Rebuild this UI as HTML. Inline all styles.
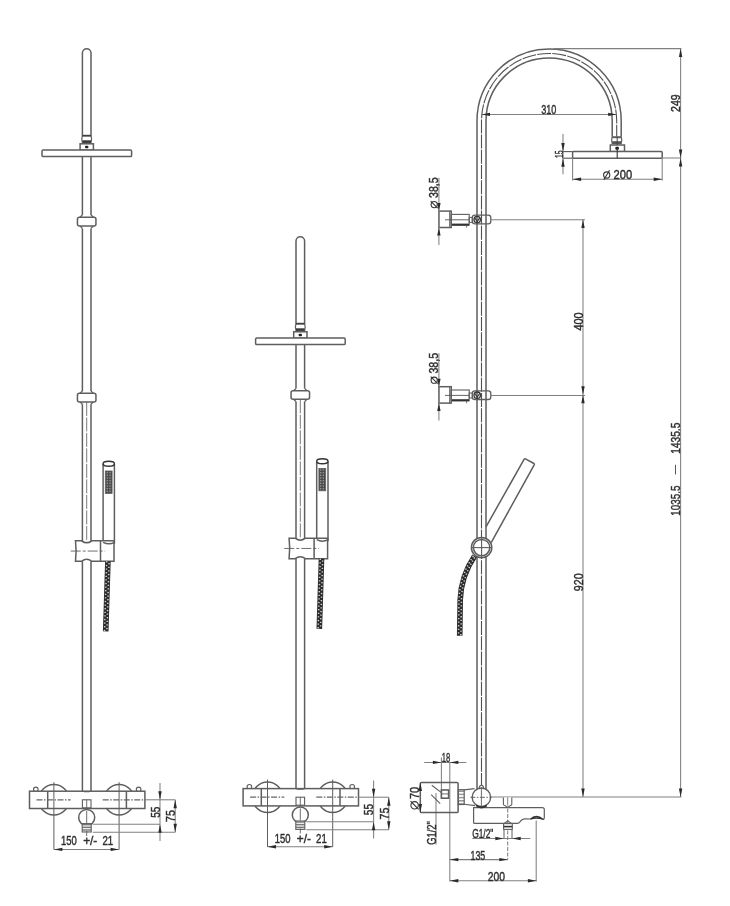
<!DOCTYPE html>
<html><head><meta charset="utf-8"><style>
html,body{margin:0;padding:0;background:#fff;}
svg{display:block;will-change:transform;}
text{font-family:"Liberation Sans",sans-serif;}
</style></head><body>
<svg width="730" height="906" viewBox="0 0 730 906">
<defs>
<pattern id="grid" width="1.6" height="1.6" patternUnits="userSpaceOnUse"><rect width="1.6" height="1.6" fill="#444"/><rect width="0.7" height="0.7" fill="#ccc"/></pattern>
<pattern id="nut" width="6" height="3.2" patternUnits="userSpaceOnUse"><rect width="6" height="3.2" fill="#fff"/><rect width="6" height="1.6" fill="#999"/></pattern>
<pattern id="thread" width="3" height="1.6" patternUnits="userSpaceOnUse"><rect width="3" height="1.6" fill="#fff"/><rect width="3" height="0.8" fill="#666"/></pattern>
</defs>
<rect width="730" height="906" fill="#fff"/>
<path d="M82.4 135.5 V53 A4.3 4.3 0 0 1 91 53 V135.5" stroke="#5e5e5e" stroke-width="1.5" fill="none" />
<path d="M82.4 135.3 Q81.2 139.1 82.4 142.9 H91 Q92.2 139.1 91 135.3 Z" stroke="#5e5e5e" stroke-width="1.2" fill="#fff" />
<rect x="82.4" y="135.3" width="8.6" height="1.3" rx="0" stroke="#5e5e5e" stroke-width="0" fill="#333" />
<rect x="82.4" y="140.3" width="8.6" height="2.6" rx="0" stroke="#5e5e5e" stroke-width="0" fill="#3a3a3a" />
<rect x="80.1" y="143.8" width="13.3" height="6.3" rx="0" stroke="#5e5e5e" stroke-width="1.5" fill="#fff" />
<rect x="85" y="145.8" width="3.4" height="2.4" rx="0.9" stroke="#5e5e5e" stroke-width="0" fill="#222" />
<rect x="42" y="150.1" width="89.6" height="6.5" rx="1.2" stroke="#5e5e5e" stroke-width="1.5" fill="#fff" />
<line x1="82.4" y1="156.9" x2="82.4" y2="214.9" stroke="#5e5e5e" stroke-width="1.5" />
<line x1="91" y1="156.9" x2="91" y2="214.9" stroke="#5e5e5e" stroke-width="1.5" />
<path d="M82.4 214.9 L79.8 217.5 M91 214.9 L93.6 217.5 M82.4 228.4 L79.8 225.8 M91 228.4 L93.6 225.8" stroke="#5e5e5e" stroke-width="1.3" fill="none" />
<rect x="77.45" y="217.2" width="18.5" height="8.9" rx="2" stroke="#5e5e5e" stroke-width="1.5" fill="#fff" />
<line x1="82.4" y1="228.4" x2="82.4" y2="391" stroke="#5e5e5e" stroke-width="1.5" />
<line x1="91" y1="228.4" x2="91" y2="391" stroke="#5e5e5e" stroke-width="1.5" />
<path d="M82.4 391 L79.8 393.6 M91 391 L93.6 393.6 M82.4 404.2 L79.8 401.6 M91 404.2 L93.6 401.6" stroke="#5e5e5e" stroke-width="1.3" fill="none" />
<rect x="77.45" y="393.3" width="18.5" height="8.6" rx="2" stroke="#5e5e5e" stroke-width="1.5" fill="#fff" />
<line x1="82.4" y1="404.2" x2="82.4" y2="541.8" stroke="#5e5e5e" stroke-width="1.5" />
<line x1="91" y1="404.2" x2="91" y2="541.8" stroke="#5e5e5e" stroke-width="1.5" />
<line x1="86.7" y1="401.9" x2="86.7" y2="541.8" stroke="#6a6a6a" stroke-width="0.9" stroke-dasharray="14 1.5"/>
<line x1="103.1" y1="463.8" x2="103.1" y2="543.8" stroke="#5e5e5e" stroke-width="1.5" />
<line x1="114.4" y1="463.8" x2="114.4" y2="543.8" stroke="#5e5e5e" stroke-width="1.5" />
<ellipse cx="108.75" cy="463.8" rx="5.65" ry="2.5" stroke="#333" stroke-width="1.4" fill="#fff"/>
<rect x="105.3" y="471" width="6.8" height="22.4" rx="0" stroke="#5e5e5e" stroke-width="0.8" fill="url(#grid)" />
<path d="M75.5 540.8 H81.6 Q86.7 544.8 91.8 540.8 H114 V561.3 H91.8 Q86.7 557.3 81.6 561.3 H75.5 Q76.7 551.05 75.5 540.8 Z" stroke="#5e5e5e" stroke-width="1.5" fill="#fff" />
<line x1="100.5" y1="540.8" x2="100.5" y2="561.3" stroke="#5e5e5e" stroke-width="1.5" />
<path d="M103.1 542.3 Q109.1 545.3 114.4 542.3" stroke="#5e5e5e" stroke-width="1.4" fill="none" />
<line x1="70.7" y1="551.05" x2="105.2" y2="551.05" stroke="#5e5e5e" stroke-width="0.9" stroke-dasharray="10 2 3 2"/>
<line x1="82.4" y1="561.3" x2="82.4" y2="791" stroke="#5e5e5e" stroke-width="1.5" />
<line x1="91" y1="561.3" x2="91" y2="791" stroke="#5e5e5e" stroke-width="1.5" />
<path d="M107.9 561.3 L105.7 631.4" stroke="#2a2a2a" stroke-width="5.6" fill="none" stroke-linecap="butt"/>
<path d="M107.9 561.3 L105.7 631.4" stroke="#cfcfcf" stroke-width="1.5" fill="none" stroke-dasharray="1.3 2.3" transform="translate(-1.2 0)"/>
<path d="M107.9 561.3 L105.7 631.4" stroke="#cfcfcf" stroke-width="1.5" fill="none" stroke-dasharray="1.3 2.3" stroke-dashoffset="1.8" transform="translate(1.2 0)"/>
<circle cx="53.9" cy="799.8" r="15.2" stroke="#5e5e5e" stroke-width="1.5" fill="#fff" />
<circle cx="119.1" cy="799.8" r="15.2" stroke="#5e5e5e" stroke-width="1.5" fill="#fff" />
<circle cx="35.8" cy="789.4" r="2.3" stroke="#5e5e5e" stroke-width="1.1" fill="#fff" />
<circle cx="138.6" cy="789.4" r="2.3" stroke="#5e5e5e" stroke-width="1.1" fill="#fff" />
<rect x="29.5" y="791.2" width="115.4" height="17.3" rx="0" stroke="#5e5e5e" stroke-width="1.5" fill="#fff" />
<line x1="47.7" y1="791.2" x2="47.7" y2="808.5" stroke="#5e5e5e" stroke-width="1.5" />
<line x1="126.4" y1="791.2" x2="126.4" y2="808.5" stroke="#5e5e5e" stroke-width="1.5" />
<line x1="53.9" y1="782.2" x2="53.9" y2="849.5" stroke="#5e5e5e" stroke-width="1.0" />
<line x1="119.1" y1="782.2" x2="119.1" y2="849.5" stroke="#5e5e5e" stroke-width="1.0" />
<line x1="36.5" y1="799.8" x2="70.7" y2="799.8" stroke="#666" stroke-width="1.2" stroke-dasharray="6 1.5 1.5 1.5"/>
<line x1="102.7" y1="799.8" x2="144.9" y2="799.8" stroke="#666" stroke-width="1.2" stroke-dasharray="6 1.5 1.5 1.5"/>
<line x1="144.9" y1="799.8" x2="175.2" y2="799.8" stroke="#808080" stroke-width="1.05" />
<path d="M82.4 791.2 Q86.7 792.4 91 791.2" stroke="#5e5e5e" stroke-width="1.1" fill="none" />
<rect x="82.4" y="799.8" width="8.6" height="8" rx="0" stroke="#5e5e5e" stroke-width="1.1" fill="#fff" />
<line x1="86.7" y1="799.8" x2="86.7" y2="807.8" stroke="#5e5e5e" stroke-width="0.9" />
<circle cx="86.7" cy="817.5" r="8" stroke="#5e5e5e" stroke-width="1.5" fill="#fff" />
<line x1="86.7" y1="811" x2="86.7" y2="823" stroke="#5e5e5e" stroke-width="0.9" />
<rect x="82.2" y="823.6" width="9" height="8.4" rx="0" stroke="#5e5e5e" stroke-width="1.1" fill="url(#thread)" />
<line x1="86.7" y1="831" x2="86.7" y2="836" stroke="#5e5e5e" stroke-width="0.9" />
<line x1="92.7" y1="824.3" x2="160" y2="824.3" stroke="#808080" stroke-width="1.05" />
<line x1="92.7" y1="832.3" x2="175.2" y2="832.3" stroke="#808080" stroke-width="1.05" />
<line x1="160" y1="783" x2="160" y2="841" stroke="#808080" stroke-width="1.05" />
<path d="M160 799.8 L158.3 791.3 L161.7 791.3 Z" fill="#2a2a2a" stroke="none"/>
<path d="M160 824.3 L161.7 832.8 L158.3 832.8 Z" fill="#2a2a2a" stroke="none"/>
<text x="-7.11" y="0" font-size="12.8" fill="#2e2e2e" stroke="#2e2e2e" stroke-width="0.42" transform="translate(159.7 812.2) rotate(-90) scale(0.788 1)" >55</text>
<line x1="175.2" y1="799.8" x2="175.2" y2="832.3" stroke="#808080" stroke-width="1.05" />
<path d="M175.2 799.8 L176.9 808.3 L173.5 808.3 Z" fill="#2a2a2a" stroke="none"/>
<path d="M175.2 832.3 L173.5 823.8 L176.9 823.8 Z" fill="#2a2a2a" stroke="none"/>
<text x="-7.18" y="0" font-size="12.8" fill="#2e2e2e" stroke="#2e2e2e" stroke-width="0.42" transform="translate(174.9 816) rotate(-90) scale(0.835 1)" >75</text>
<line x1="53.9" y1="849.4" x2="119.1" y2="849.4" stroke="#808080" stroke-width="1.05" />
<path d="M53.9 849.4 L62.4 847.7 L62.4 851.1 Z" fill="#2a2a2a" stroke="none"/>
<path d="M119.1 849.4 L110.6 851.1 L110.6 847.7 Z" fill="#2a2a2a" stroke="none"/>
<text x="-10.92" y="0" font-size="12.8" fill="#2e2e2e" stroke="#2e2e2e" stroke-width="0.42" transform="translate(69.15 845.3) scale(0.739 1)" >150</text>
<text x="-7.67" y="0" font-size="12.8" fill="#2e2e2e" stroke="#2e2e2e" stroke-width="0.42" transform="translate(90.25 845.3) scale(0.928 1)" >+/-</text>
<text x="-7.13" y="0" font-size="12.8" fill="#2e2e2e" stroke="#2e2e2e" stroke-width="0.42" transform="translate(107.8 845.3) scale(0.755 1)" >21</text>
<path d="M296 323.5 V241 A4.3 4.3 0 0 1 304.6 241 V323.5" stroke="#5e5e5e" stroke-width="1.5" fill="none" />
<path d="M296 323.3 Q294.8 327.1 296 330.9 H304.6 Q305.8 327.1 304.6 323.3 Z" stroke="#5e5e5e" stroke-width="1.2" fill="#fff" />
<rect x="296" y="323.3" width="8.6" height="1.3" rx="0" stroke="#5e5e5e" stroke-width="0" fill="#333" />
<rect x="296" y="328.3" width="8.6" height="2.6" rx="0" stroke="#5e5e5e" stroke-width="0" fill="#3a3a3a" />
<rect x="293.7" y="331.8" width="13.3" height="6.3" rx="0" stroke="#5e5e5e" stroke-width="1.5" fill="#fff" />
<rect x="298.6" y="333.8" width="3.4" height="2.4" rx="0.9" stroke="#5e5e5e" stroke-width="0" fill="#222" />
<rect x="255.6" y="338.1" width="89.6" height="6.5" rx="1.2" stroke="#5e5e5e" stroke-width="1.5" fill="#fff" />
<line x1="296" y1="344.9" x2="296" y2="388.4" stroke="#5e5e5e" stroke-width="1.5" />
<line x1="304.6" y1="344.9" x2="304.6" y2="388.4" stroke="#5e5e5e" stroke-width="1.5" />
<path d="M296 388.4 L293.4 391 M304.6 388.4 L307.2 391 M296 401.6 L293.4 399 M304.6 401.6 L307.2 399" stroke="#5e5e5e" stroke-width="1.3" fill="none" />
<rect x="291.05" y="390.7" width="18.5" height="8.6" rx="2" stroke="#5e5e5e" stroke-width="1.5" fill="#fff" />
<line x1="296" y1="401.6" x2="296" y2="539.2" stroke="#5e5e5e" stroke-width="1.5" />
<line x1="304.6" y1="401.6" x2="304.6" y2="539.2" stroke="#5e5e5e" stroke-width="1.5" />
<line x1="300.3" y1="399.3" x2="300.3" y2="539.2" stroke="#6a6a6a" stroke-width="0.9" stroke-dasharray="14 1.5"/>
<line x1="316.7" y1="461.2" x2="316.7" y2="541.2" stroke="#5e5e5e" stroke-width="1.5" />
<line x1="328" y1="461.2" x2="328" y2="541.2" stroke="#5e5e5e" stroke-width="1.5" />
<ellipse cx="322.35" cy="461.2" rx="5.65" ry="2.5" stroke="#333" stroke-width="1.4" fill="#fff"/>
<rect x="318.9" y="468.4" width="6.8" height="22.4" rx="0" stroke="#5e5e5e" stroke-width="0.8" fill="url(#grid)" />
<path d="M289.1 538.2 H295.2 Q300.3 542.2 305.4 538.2 H327.6 V558.7 H305.4 Q300.3 554.7 295.2 558.7 H289.1 Q290.3 548.45 289.1 538.2 Z" stroke="#5e5e5e" stroke-width="1.5" fill="#fff" />
<line x1="314.1" y1="538.2" x2="314.1" y2="558.7" stroke="#5e5e5e" stroke-width="1.5" />
<path d="M316.7 539.7 Q322.7 542.7 328 539.7" stroke="#5e5e5e" stroke-width="1.4" fill="none" />
<line x1="284.3" y1="548.45" x2="318.8" y2="548.45" stroke="#5e5e5e" stroke-width="0.9" stroke-dasharray="10 2 3 2"/>
<line x1="296" y1="558.7" x2="296" y2="788.4" stroke="#5e5e5e" stroke-width="1.5" />
<line x1="304.6" y1="558.7" x2="304.6" y2="788.4" stroke="#5e5e5e" stroke-width="1.5" />
<path d="M321.5 558.7 L319.3 628.8" stroke="#2a2a2a" stroke-width="5.6" fill="none" stroke-linecap="butt"/>
<path d="M321.5 558.7 L319.3 628.8" stroke="#cfcfcf" stroke-width="1.5" fill="none" stroke-dasharray="1.3 2.3" transform="translate(-1.2 0)"/>
<path d="M321.5 558.7 L319.3 628.8" stroke="#cfcfcf" stroke-width="1.5" fill="none" stroke-dasharray="1.3 2.3" stroke-dashoffset="1.8" transform="translate(1.2 0)"/>
<circle cx="267.5" cy="797.2" r="15.2" stroke="#5e5e5e" stroke-width="1.5" fill="#fff" />
<circle cx="332.7" cy="797.2" r="15.2" stroke="#5e5e5e" stroke-width="1.5" fill="#fff" />
<circle cx="249.4" cy="786.8" r="2.3" stroke="#5e5e5e" stroke-width="1.1" fill="#fff" />
<circle cx="352.2" cy="786.8" r="2.3" stroke="#5e5e5e" stroke-width="1.1" fill="#fff" />
<rect x="243.1" y="788.6" width="115.4" height="17.3" rx="0" stroke="#5e5e5e" stroke-width="1.5" fill="#fff" />
<line x1="261.3" y1="788.6" x2="261.3" y2="805.9" stroke="#5e5e5e" stroke-width="1.5" />
<line x1="340" y1="788.6" x2="340" y2="805.9" stroke="#5e5e5e" stroke-width="1.5" />
<line x1="267.5" y1="779.6" x2="267.5" y2="846.9" stroke="#5e5e5e" stroke-width="1.0" />
<line x1="332.7" y1="779.6" x2="332.7" y2="846.9" stroke="#5e5e5e" stroke-width="1.0" />
<line x1="250.1" y1="797.2" x2="284.3" y2="797.2" stroke="#666" stroke-width="1.2" stroke-dasharray="6 1.5 1.5 1.5"/>
<line x1="316.3" y1="797.2" x2="358.5" y2="797.2" stroke="#666" stroke-width="1.2" stroke-dasharray="6 1.5 1.5 1.5"/>
<line x1="358.5" y1="797.2" x2="388.8" y2="797.2" stroke="#808080" stroke-width="1.05" />
<path d="M296 788.6 Q300.3 789.8 304.6 788.6" stroke="#5e5e5e" stroke-width="1.1" fill="none" />
<rect x="296" y="797.2" width="8.6" height="8" rx="0" stroke="#5e5e5e" stroke-width="1.1" fill="#fff" />
<line x1="300.3" y1="797.2" x2="300.3" y2="805.2" stroke="#5e5e5e" stroke-width="0.9" />
<circle cx="300.3" cy="814.9" r="8" stroke="#5e5e5e" stroke-width="1.5" fill="#fff" />
<line x1="300.3" y1="808.4" x2="300.3" y2="820.4" stroke="#5e5e5e" stroke-width="0.9" />
<rect x="295.8" y="821" width="9" height="8.4" rx="0" stroke="#5e5e5e" stroke-width="1.1" fill="url(#thread)" />
<line x1="300.3" y1="828.4" x2="300.3" y2="833.4" stroke="#5e5e5e" stroke-width="0.9" />
<line x1="306.3" y1="821.7" x2="373.6" y2="821.7" stroke="#808080" stroke-width="1.05" />
<line x1="306.3" y1="829.7" x2="388.8" y2="829.7" stroke="#808080" stroke-width="1.05" />
<line x1="373.6" y1="780.4" x2="373.6" y2="838.4" stroke="#808080" stroke-width="1.05" />
<path d="M373.6 797.2 L371.9 788.7 L375.3 788.7 Z" fill="#2a2a2a" stroke="none"/>
<path d="M373.6 821.7 L375.3 830.2 L371.9 830.2 Z" fill="#2a2a2a" stroke="none"/>
<text x="-7.11" y="0" font-size="12.8" fill="#2e2e2e" stroke="#2e2e2e" stroke-width="0.42" transform="translate(373.3 809.6) rotate(-90) scale(0.788 1)" >55</text>
<line x1="388.8" y1="797.2" x2="388.8" y2="829.7" stroke="#808080" stroke-width="1.05" />
<path d="M388.8 797.2 L390.5 805.7 L387.1 805.7 Z" fill="#2a2a2a" stroke="none"/>
<path d="M388.8 829.7 L387.1 821.2 L390.5 821.2 Z" fill="#2a2a2a" stroke="none"/>
<text x="-7.18" y="0" font-size="12.8" fill="#2e2e2e" stroke="#2e2e2e" stroke-width="0.42" transform="translate(388.5 813.4) rotate(-90) scale(0.835 1)" >75</text>
<line x1="267.5" y1="846.8" x2="332.7" y2="846.8" stroke="#808080" stroke-width="1.05" />
<path d="M267.5 846.8 L276 845.1 L276 848.5 Z" fill="#2a2a2a" stroke="none"/>
<path d="M332.7 846.8 L324.2 848.5 L324.2 845.1 Z" fill="#2a2a2a" stroke="none"/>
<text x="-10.92" y="0" font-size="12.8" fill="#2e2e2e" stroke="#2e2e2e" stroke-width="0.42" transform="translate(282.75 842.7) scale(0.739 1)" >150</text>
<text x="-7.67" y="0" font-size="12.8" fill="#2e2e2e" stroke="#2e2e2e" stroke-width="0.42" transform="translate(303.85 842.7) scale(0.928 1)" >+/-</text>
<text x="-7.13" y="0" font-size="12.8" fill="#2e2e2e" stroke="#2e2e2e" stroke-width="0.42" transform="translate(321.4 842.7) scale(0.755 1)" >21</text>
<path d="M477 789 V121 A72.1 72.1 0 0 1 621.2 121 V136.8" stroke="#5e5e5e" stroke-width="1.5" fill="none" />
<path d="M486 789 V121 A63.1 63.1 0 0 1 612.2 121 V136.8" stroke="#5e5e5e" stroke-width="1.5" fill="none" />
<path d="M481.5 787 V121 A67.6 67.6 0 0 1 616.7 121 V136.8" stroke="#505050" stroke-width="1.1" fill="none" stroke-dasharray="14 1.2"/>
<path d="M612.2 136.8 Q611 140.2 612.2 143.6 H621.2 Q622.4 140.2 621.2 136.8 Z" stroke="#5e5e5e" stroke-width="1.2" fill="#fff" />
<rect x="612.2" y="136.8" width="9" height="1.4" rx="0" stroke="#5e5e5e" stroke-width="0" fill="#5e5e5e" />
<rect x="612.2" y="141.2" width="9" height="2.4" rx="0" stroke="#5e5e5e" stroke-width="0" fill="#555" />
<rect x="610.3" y="145" width="14.2" height="6.6" rx="0" stroke="#5e5e5e" stroke-width="1.5" fill="#fff" />
<rect x="615.3" y="146.8" width="3.6" height="2.9" rx="1.2" stroke="#5e5e5e" stroke-width="0" fill="#1a1a1a" />
<rect x="572.6" y="151.6" width="89.6" height="6.6" rx="1" stroke="#5e5e5e" stroke-width="1.5" fill="#fff" />
<line x1="617.2" y1="136.8" x2="617.2" y2="145" stroke="#444" stroke-width="1.0" />
<line x1="617.2" y1="148" x2="617.2" y2="158.2" stroke="#333" stroke-width="1.1" />
<line x1="481.5" y1="114.4" x2="616.7" y2="114.4" stroke="#808080" stroke-width="1.05" />
<path d="M481.5 114.4 L490 112.7 L490 116.1 Z" fill="#2a2a2a" stroke="none"/>
<path d="M616.7 114.4 L608.2 116.1 L608.2 112.7 Z" fill="#2a2a2a" stroke="none"/>
<text x="-10.68" y="0" font-size="12.8" fill="#2e2e2e" stroke="#2e2e2e" stroke-width="0.42" transform="translate(548.75 114.1) scale(0.712 1)" >310</text>
<line x1="553.8" y1="48.6" x2="681.4" y2="48.6" stroke="#808080" stroke-width="1.05" />
<line x1="662.2" y1="158" x2="681.4" y2="158" stroke="#808080" stroke-width="1.05" />
<line x1="680.6" y1="48.6" x2="680.6" y2="796.9" stroke="#808080" stroke-width="1.05" />
<path d="M680.6 48.6 L682.3 57.1 L678.9 57.1 Z" fill="#2a2a2a" stroke="none"/>
<path d="M680.6 158 L678.9 149.5 L682.3 149.5 Z" fill="#2a2a2a" stroke="none"/>
<path d="M680.6 158 L682.3 166.5 L678.9 166.5 Z" fill="#2a2a2a" stroke="none"/>
<text x="-10.69" y="0" font-size="12.8" fill="#2e2e2e" stroke="#2e2e2e" stroke-width="0.42" transform="translate(680.2 103.1) rotate(-90) scale(0.826 1)" >249</text>
<line x1="562.5" y1="151.6" x2="572.6" y2="151.6" stroke="#555" stroke-width="1.1" />
<line x1="562.5" y1="158.2" x2="572.6" y2="158.2" stroke="#555" stroke-width="1.1" />
<line x1="563" y1="134" x2="563" y2="174.2" stroke="#808080" stroke-width="1.05" />
<path d="M563 151.6 L561.3 143.1 L564.7 143.1 Z" fill="#2a2a2a" stroke="none"/>
<path d="M563 158.2 L564.7 166.7 L561.3 166.7 Z" fill="#2a2a2a" stroke="none"/>
<text x="-6.6" y="0" font-size="11.5" fill="#2e2e2e" stroke="#2e2e2e" stroke-width="0.42" transform="translate(562.6 154) rotate(-90) scale(0.594 1)" >15</text>
<line x1="572.6" y1="158" x2="572.6" y2="180.6" stroke="#808080" stroke-width="1.05" />
<line x1="662.2" y1="158" x2="662.2" y2="180.6" stroke="#808080" stroke-width="1.05" />
<line x1="572.6" y1="179.2" x2="662.2" y2="179.2" stroke="#808080" stroke-width="1.05" />
<path d="M572.6 179.2 L581.1 177.5 L581.1 180.9 Z" fill="#2a2a2a" stroke="none"/>
<path d="M662.2 179.2 L653.7 180.9 L653.7 177.5 Z" fill="#2a2a2a" stroke="none"/>
<text x="-10.75" y="0" font-size="12.8" fill="#2e2e2e" stroke="#2e2e2e" stroke-width="0.42" transform="translate(622.9 179) scale(0.870 1)" >200</text>
<circle cx="606.7" cy="175" r="3.1" stroke="#333" stroke-width="1.1" fill="none" />
<line x1="603.8" y1="179.7" x2="609.6" y2="170.3" stroke="#333" stroke-width="1.1" />
<rect x="438.9" y="211.1" width="12.3" height="16.4" rx="0" stroke="#5e5e5e" stroke-width="1.5" fill="none" />
<line x1="449.7" y1="211.1" x2="449.7" y2="227.5" stroke="#5e5e5e" stroke-width="1.0" />
<rect x="451.2" y="214.4" width="18" height="10.8" rx="0" stroke="#5e5e5e" stroke-width="1.1" fill="none" />
<line x1="452" y1="224.6" x2="469" y2="224.6" stroke="#333" stroke-width="2.0" />
<line x1="466.6" y1="225.5" x2="466.6" y2="227.6" stroke="#5e5e5e" stroke-width="0.9" />
<line x1="445" y1="219.8" x2="469.2" y2="219.8" stroke="#555" stroke-width="0.9" />
<rect x="469.2" y="217.4" width="3.1" height="5" rx="0" stroke="#5e5e5e" stroke-width="1.0" fill="none" />
<rect x="472.3" y="215.2" width="18.5" height="8.7" rx="2.6" stroke="#5e5e5e" stroke-width="1.3" fill="none" />
<circle cx="477.2" cy="219.6" r="3.2" stroke="#333" stroke-width="1.3" fill="none" />
<path d="M474.8 217.9 L477.2 221.7 L479.6 217.9" stroke="#333" stroke-width="1.1" fill="none" />
<line x1="490.8" y1="219.8" x2="585" y2="219.8" stroke="#808080" stroke-width="1.05" />
<line x1="438.9" y1="177.7" x2="438.9" y2="245" stroke="#808080" stroke-width="1.05" />
<path d="M438.9 211.1 L437.2 203.1 L440.6 203.1 Z" fill="#2a2a2a" stroke="none"/>
<path d="M438.9 227.5 L440.6 235.5 L437.2 235.5 Z" fill="#2a2a2a" stroke="none"/>
<text x="-12.44" y="0" font-size="12.8" fill="#2e2e2e" stroke="#2e2e2e" stroke-width="0.42" transform="translate(438.4 187.7) rotate(-90) scale(0.829 1)" >38,5</text>
<circle cx="434.2" cy="204.6" r="3.1" stroke="#333" stroke-width="1.1" fill="none" />
<line x1="430.7" y1="201.1" x2="437.7" y2="208.1" stroke="#333" stroke-width="1.1" />
<rect x="438.9" y="386.7" width="12.3" height="16.4" rx="0" stroke="#5e5e5e" stroke-width="1.5" fill="none" />
<line x1="449.7" y1="386.7" x2="449.7" y2="403.1" stroke="#5e5e5e" stroke-width="1.0" />
<rect x="451.2" y="390" width="18" height="10.8" rx="0" stroke="#5e5e5e" stroke-width="1.1" fill="none" />
<line x1="452" y1="400.2" x2="469" y2="400.2" stroke="#333" stroke-width="2.0" />
<line x1="466.6" y1="401.1" x2="466.6" y2="403.2" stroke="#5e5e5e" stroke-width="0.9" />
<line x1="445" y1="395.4" x2="469.2" y2="395.4" stroke="#555" stroke-width="0.9" />
<rect x="469.2" y="393" width="3.1" height="5" rx="0" stroke="#5e5e5e" stroke-width="1.0" fill="none" />
<rect x="472.3" y="390.8" width="18.5" height="8.7" rx="2.6" stroke="#5e5e5e" stroke-width="1.3" fill="none" />
<circle cx="477.2" cy="395.2" r="3.2" stroke="#333" stroke-width="1.3" fill="none" />
<path d="M474.8 393.5 L477.2 397.3 L479.6 393.5" stroke="#333" stroke-width="1.1" fill="none" />
<line x1="490.8" y1="395.4" x2="585" y2="395.4" stroke="#808080" stroke-width="1.05" />
<line x1="438.9" y1="353.3" x2="438.9" y2="420.6" stroke="#808080" stroke-width="1.05" />
<path d="M438.9 386.7 L437.2 378.7 L440.6 378.7 Z" fill="#2a2a2a" stroke="none"/>
<path d="M438.9 403.1 L440.6 411.1 L437.2 411.1 Z" fill="#2a2a2a" stroke="none"/>
<text x="-12.44" y="0" font-size="12.8" fill="#2e2e2e" stroke="#2e2e2e" stroke-width="0.42" transform="translate(438.4 363.3) rotate(-90) scale(0.829 1)" >38,5</text>
<circle cx="434.2" cy="380.2" r="3.1" stroke="#333" stroke-width="1.1" fill="none" />
<line x1="430.7" y1="376.7" x2="437.7" y2="383.7" stroke="#333" stroke-width="1.1" />
<line x1="583" y1="219.4" x2="583" y2="796.9" stroke="#808080" stroke-width="1.05" />
<path d="M583 219.4 L584.7 227.9 L581.3 227.9 Z" fill="#2a2a2a" stroke="none"/>
<path d="M583 394.8 L581.3 386.3 L584.7 386.3 Z" fill="#2a2a2a" stroke="none"/>
<path d="M583 394.8 L584.7 403.3 L581.3 403.3 Z" fill="#2a2a2a" stroke="none"/>
<path d="M583 796.9 L581.3 788.4 L584.7 788.4 Z" fill="#2a2a2a" stroke="none"/>
<text x="-10.57" y="0" font-size="12.8" fill="#2e2e2e" stroke="#2e2e2e" stroke-width="0.42" transform="translate(582.8 321.5) rotate(-90) scale(0.855 1)" >400</text>
<text x="-10.73" y="0" font-size="12.8" fill="#2e2e2e" stroke="#2e2e2e" stroke-width="0.42" transform="translate(582.8 582.2) rotate(-90) scale(0.838 1)" >920</text>
<text x="-19.8" y="0" font-size="12.8" fill="#2e2e2e" stroke="#2e2e2e" stroke-width="0.42" transform="translate(679.8 500.4) rotate(-90) scale(0.770 1)" >1035.5</text>
<text x="-19.8" y="0" font-size="12.8" fill="#2e2e2e" stroke="#2e2e2e" stroke-width="0.42" transform="translate(679.8 438) rotate(-90) scale(0.794 1)" >1435.5</text>
<line x1="675.5" y1="464.8" x2="675.5" y2="474.4" stroke="#555" stroke-width="1.0" />
<line x1="490.6" y1="796.9" x2="681.4" y2="796.9" stroke="#808080" stroke-width="1.05" />
<path d="M680.6 796.9 L678.9 788.4 L682.3 788.4 Z" fill="#2a2a2a" stroke="none"/>
<path d="M486 526.8 L524.2 459.2 Q524.7 458.4 525.5 458.8 L533.9 463.5 Q534.6 464 534.2 464.8 L491.2 542.6" stroke="#5e5e5e" stroke-width="1.5" fill="none" />
<circle cx="481.6" cy="547.6" r="10.2" stroke="#5e5e5e" stroke-width="1.5" fill="#fff" />
<circle cx="481.6" cy="547.6" r="8.2" stroke="#5e5e5e" stroke-width="1.5" fill="none" />
<line x1="471.4" y1="547.6" x2="491.8" y2="547.6" stroke="#5e5e5e" stroke-width="1.1" />
<line x1="481.6" y1="537.4" x2="481.6" y2="557.8" stroke="#5e5e5e" stroke-width="1.1" />
<path d="M474.6 556 Q461 576 460.2 600 L459.7 635.7" stroke="#2a2a2a" stroke-width="5.6" fill="none" stroke-linecap="butt"/>
<path d="M474.6 556 Q461 576 460.2 600 L459.7 635.7" stroke="#cfcfcf" stroke-width="1.5" fill="none" stroke-dasharray="1.3 2.3" transform="translate(-1.2 0)"/>
<path d="M474.6 556 Q461 576 460.2 600 L459.7 635.7" stroke="#cfcfcf" stroke-width="1.5" fill="none" stroke-dasharray="1.3 2.3" stroke-dashoffset="1.8" transform="translate(1.2 0)"/>
<line x1="449.8" y1="762.4" x2="449.8" y2="881.6" stroke="#808080" stroke-width="1.05" />
<line x1="441.4" y1="757.5" x2="441.4" y2="798.2" stroke="#808080" stroke-width="1.05" />
<line x1="436" y1="793" x2="436" y2="844.4" stroke="#808080" stroke-width="1.05" />
<rect x="420.3" y="782.4" width="37.8" height="30.2" rx="1.2" stroke="#5e5e5e" stroke-width="1.5" fill="none" />
<rect x="441.4" y="790" width="7.2" height="8.2" rx="0" stroke="#5e5e5e" stroke-width="1.6" fill="none" />
<line x1="441.4" y1="793.9" x2="448.6" y2="793.9" stroke="#5e5e5e" stroke-width="0.9" />
<line x1="431.8" y1="785.2" x2="441.4" y2="792.6" stroke="#5e5e5e" stroke-width="1.1" />
<line x1="431.2" y1="794.6" x2="440.2" y2="803.6" stroke="#5e5e5e" stroke-width="1.1" />
<line x1="424.2" y1="762.4" x2="466.4" y2="762.4" stroke="#808080" stroke-width="1.05" />
<path d="M441.4 762.4 L432.9 764.1 L432.9 760.7 Z" fill="#2a2a2a" stroke="none"/>
<path d="M449.8 762.4 L458.3 760.7 L458.3 764.1 Z" fill="#2a2a2a" stroke="none"/>
<text x="-7.33" y="0" font-size="12.8" fill="#2e2e2e" stroke="#2e2e2e" stroke-width="0.42" transform="translate(446.1 761.8) scale(0.598 1)" >18</text>
<path d="M420.3 782.6 L422 791.1 L418.6 791.1 Z" fill="#2a2a2a" stroke="none"/>
<path d="M420.3 812.4 L418.6 803.9 L422 803.9 Z" fill="#2a2a2a" stroke="none"/>
<text x="-7.2" y="0" font-size="12.8" fill="#2e2e2e" stroke="#2e2e2e" stroke-width="0.42" transform="translate(418.6 792.9) rotate(-90) scale(0.855 1)" >70</text>
<circle cx="414.6" cy="805.3" r="3.7" stroke="#333" stroke-width="1.1" fill="none" />
<line x1="410.5" y1="801.2" x2="418.7" y2="809.4" stroke="#333" stroke-width="1.1" />
<text x="-16.2" y="0" font-size="12.8" fill="#2e2e2e" stroke="#2e2e2e" stroke-width="0.42" transform="translate(435.9 832.9) rotate(-90) scale(0.733 1)" >G1/2&quot;</text>
<path d="M464.2 789.9 L474.6 788.6 M464.2 804.3 L475.2 805.6" stroke="#5e5e5e" stroke-width="1.1" fill="none" />
<rect x="458.4" y="789.7" width="5.8" height="14.8" rx="0" stroke="#5e5e5e" stroke-width="1.2" fill="url(#nut)" />
<path d="M479.2 788.4 Q479.2 785.3 481.4 785.3 Q483.6 785.3 483.6 788.4" stroke="#5e5e5e" stroke-width="1.1" fill="#fff" />
<path d="M473.6 823.3 V807.6 H542.3 Q544.3 807.6 544.3 809.6 V817.4 Q544.3 819.2 543.2 819.6 M530.6 819.0 L524.6 818.9 Q522 818.9 520.5 821.2 Q519.4 823.3 517.5 823.3 H473.6" stroke="#5e5e5e" stroke-width="1.2" fill="none" />
<path d="M530.4 819.2 Q536 813.4 543.4 819.4 Q536.5 816.8 530.4 819.2 Z" stroke="#333" stroke-width="1.2" fill="#999" />
<circle cx="481.4" cy="797.3" r="9.25" stroke="#5e5e5e" stroke-width="1.4" fill="#fff" />
<line x1="470.4" y1="797.3" x2="491.5" y2="797.3" stroke="#555" stroke-width="0.9" stroke-dasharray="5 1.5 1.5 1.5"/>
<line x1="481.4" y1="787.4" x2="481.4" y2="806" stroke="#5e5e5e" stroke-width="0.9" />
<path d="M476.2 805.6 Q481.4 809.4 486.8 805.6" stroke="#333" stroke-width="1.8" fill="none" />
<path d="M503.4 797.4 V804.2 Q503.4 805.3 505 805.5 L507.7 807.4 L510.4 805.5 Q511.8 805.3 511.8 804.2 V797.4" stroke="#5e5e5e" stroke-width="1.1" fill="#fff" />
<line x1="507.7" y1="797.4" x2="507.7" y2="805.5" stroke="#5e5e5e" stroke-width="0.8" />
<line x1="507.7" y1="808.5" x2="507.7" y2="859.6" stroke="#808080" stroke-width="1.05" stroke-dasharray="4 1.5"/>
<path d="M503.8 823.6 L507.7 821 L511.8 823.6" stroke="#5e5e5e" stroke-width="1.1" fill="none" />
<rect x="503.6" y="823.6" width="8.7" height="5.8" rx="0" stroke="#5e5e5e" stroke-width="1.1" fill="#fff" />
<line x1="503.6" y1="826.6" x2="512.3" y2="826.6" stroke="#333" stroke-width="1.6" />
<line x1="504" y1="829.4" x2="504" y2="838.5" stroke="#5e5e5e" stroke-width="1.0" />
<line x1="512" y1="829.4" x2="512" y2="838.5" stroke="#5e5e5e" stroke-width="1.0" />
<text x="-16.2" y="0" font-size="12.8" fill="#2e2e2e" stroke="#2e2e2e" stroke-width="0.42" transform="translate(482.8 837.8) scale(0.656 1)" >G1/2&quot;</text>
<line x1="472.3" y1="838.5" x2="530.3" y2="838.5" stroke="#808080" stroke-width="1.05" />
<path d="M503.8 838.5 L495.3 840.2 L495.3 836.8 Z" fill="#2a2a2a" stroke="none"/>
<path d="M512.2 838.5 L520.7 836.8 L520.7 840.2 Z" fill="#2a2a2a" stroke="none"/>
<line x1="536.2" y1="820.4" x2="536.2" y2="881.6" stroke="#808080" stroke-width="1.05" />
<line x1="449.8" y1="859.6" x2="507.8" y2="859.6" stroke="#808080" stroke-width="1.05" />
<path d="M449.8 859.6 L458.3 857.9 L458.3 861.3 Z" fill="#2a2a2a" stroke="none"/>
<path d="M507.8 859.6 L499.3 861.3 L499.3 857.9 Z" fill="#2a2a2a" stroke="none"/>
<text x="-10.9" y="0" font-size="12.8" fill="#2e2e2e" stroke="#2e2e2e" stroke-width="0.42" transform="translate(478.05 859.6) scale(0.690 1)" >135</text>
<line x1="449.8" y1="880.7" x2="536.4" y2="880.7" stroke="#808080" stroke-width="1.05" />
<path d="M449.8 880.7 L458.3 879 L458.3 882.4 Z" fill="#2a2a2a" stroke="none"/>
<path d="M536.4 880.7 L527.9 882.4 L527.9 879 Z" fill="#2a2a2a" stroke="none"/>
<text x="-10.75" y="0" font-size="12.8" fill="#2e2e2e" stroke="#2e2e2e" stroke-width="0.42" transform="translate(496.35 880.7) scale(0.806 1)" >200</text>
</svg>
</body></html>
